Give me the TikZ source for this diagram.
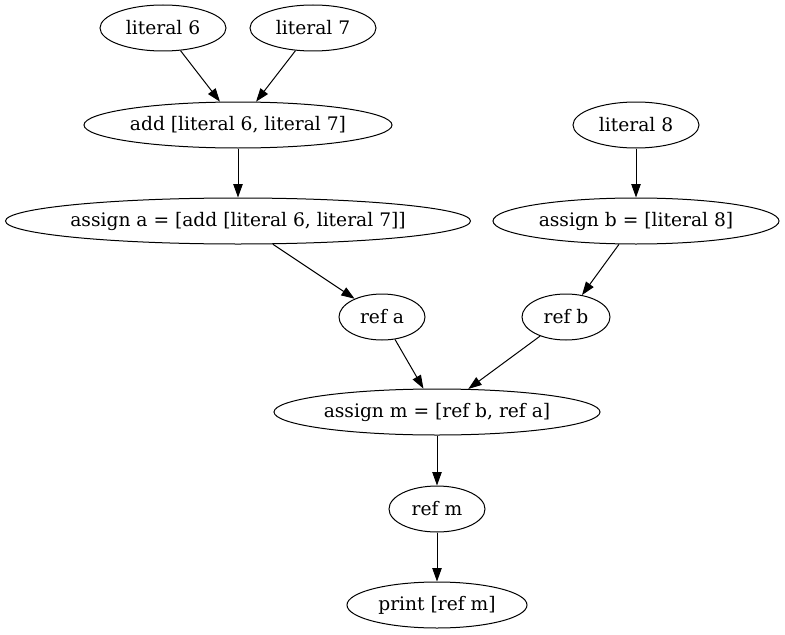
\documentclass[tikz,border=0pt]{standalone}
\usepackage{fontspec}
\setmainfont{DejaVu Serif}
\usetikzlibrary{shapes.geometric,arrows.meta}
\newcommand{\zw}[1]{\makebox[0pt]{#1}}
\begin{document}
\begin{tikzpicture}[x=0.75pt,y=-0.75pt,
  el/.style={ellipse, draw, line width=0.75pt, inner sep=0pt,
    minimum height=34.5pt, minimum width=#1*1.5pt,
    font=\fontsize{14}{16}\selectfont},
  edge/.style={draw, line width=0.75pt,
    -{Triangle[length=10pt,width=7pt]}}]
\useasboundingbox[fill=white] (0,0) rectangle (785,635);
\node[el=63]  (l6) at (163,28)  {\zw{literal 6}};
\node[el=63]  (l7) at (313,28)  {\zw{literal 7}};
\node[el=154] (add) at (238,125) {\zw{add [literal 6, literal 7]}};
\node[el=63]  (l8) at (636,125) {\zw{literal 8}};
\node[el=232.5] (asa) at (238,221) {\zw{assign a = [add [literal 6, literal 7]]}};
\node[el=143] (asb) at (636,221) {\zw{assign b = [literal 8]}};
\node[el=43]  (ra) at (382,317) {\zw{ref a}};
\node[el=44]  (rb) at (566,317) {\zw{ref b}};
\node[el=163] (asm) at (437,412) {\zw{assign m = [ref b, ref a]}};
\node[el=48]  (rm) at (437,509) {\zw{ref m}};
\node[el=90]  (pr) at (437,605) {\zw{print [ref m]}};
\path[edge] (l6) -- (add);
\path[edge] (l7) -- (add);
\path[edge] (add) -- (asa);
\path[edge] (l8) -- (asb);
\path[edge] (asa) -- (ra);
\path[edge] (asb) -- (rb);
\path[edge] (ra) -- (asm);
\path[edge] (rb) -- (asm);
\path[edge] (asm) -- (rm);
\path[edge] (rm) -- (pr);
\end{tikzpicture}
\end{document}
